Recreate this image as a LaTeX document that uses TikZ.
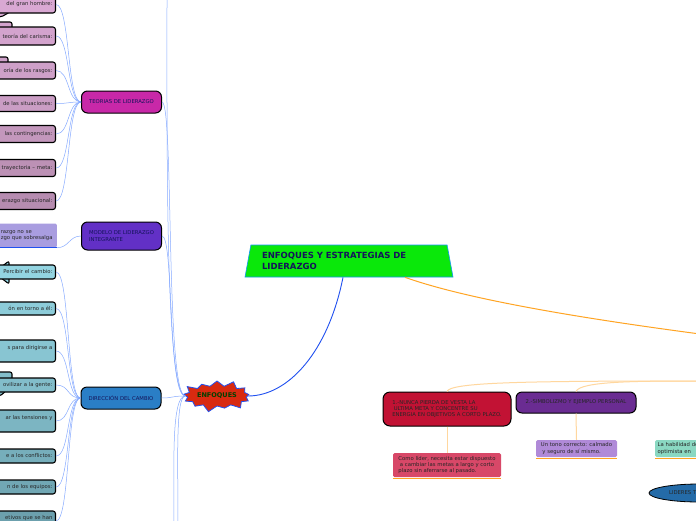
\documentclass[tikz,border=0pt]{standalone}
\usepackage{fontspec}
\setmainfont{DejaVu Sans}
\usetikzlibrary{shapes.geometric,shapes.symbols}

\definecolor{teoriaC}{HTML}{C828A8}
\definecolor{modeloC}{HTML}{6230C6}
\definecolor{direccionC}{HTML}{2A7EC6}
\definecolor{tituloC}{HTML}{0AE80A}
\definecolor{enfoquesC}{HTML}{D82A10}
\definecolor{nuncaC}{HTML}{C21234}
\definecolor{simbC}{HTML}{6A2C92}
\definecolor{rosaRojo}{HTML}{D84868}
\definecolor{lavanda}{HTML}{B08AD8}
\definecolor{menta}{HTML}{8AD8C2}
\definecolor{lila}{HTML}{A99DE0}
\definecolor{lineaAzul}{HTML}{86AAFF}
\definecolor{azulFuerte}{HTML}{2050F0}
\definecolor{naranja}{HTML}{FFA422}
\definecolor{naranjaClaro}{HTML}{FFD79E}
\definecolor{marino}{HTML}{14145A}
\definecolor{rosaA}{HTML}{D9A8D3}
\definecolor{rosaB}{HTML}{D3A3CD}
\definecolor{rosaC}{HTML}{CEA0C8}
\definecolor{rosaD}{HTML}{CA9DC4}
\definecolor{rosaE}{HTML}{C397BC}
\definecolor{rosaF}{HTML}{BC91B5}
\definecolor{rosaG}{HTML}{B68CB0}
\definecolor{celesteA}{HTML}{93D4E1}
\definecolor{celesteB}{HTML}{8DCCD9}
\definecolor{celesteC}{HTML}{88C5D2}
\definecolor{celesteD}{HTML}{82BDCA}
\definecolor{celesteE}{HTML}{7CB5C2}
\definecolor{celesteF}{HTML}{76AEBB}
\definecolor{celesteG}{HTML}{71A7B4}
\definecolor{celesteH}{HTML}{6CA0AD}

\begin{document}
\begin{tikzpicture}[x=1pt,y=-1pt,
  every node/.style={font=\fontsize{5.3}{6.3}\selectfont, text=black!85},
  hoja/.style={draw=black, line width=1.1pt, rounded corners=2.5pt, anchor=east, text width=60pt, align=right, inner xsep=3pt, inner ysep=1pt},
  pestana/.style={draw=black, line width=1.1pt, rounded corners=2pt},
  rama/.style={draw=black, line width=1pt, rounded corners=6pt, minimum width=80pt, inner sep=2pt, text=marino},
  enlace/.style={draw=lineaAzul, line width=.5pt},
  caja/.style={rounded corners=1.5pt, inner sep=2.5pt, align=left},
  subrayado/.style={draw=naranja, line width=1.2pt}]
\path [fill=white] (0,0) rectangle (696,520);
\useasboundingbox (0,0) rectangle (696,520);

% pestanas de las llamadas
\draw [pestana, fill=rosaA] (-4,8) -- (10,12) -- (1,17) -- (-4,17) -- cycle;
\draw [pestana, fill=rosaB] (-4,22) rectangle (12,34);
\draw [pestana, fill=rosaC] (-4,57) rectangle (8,67);
\draw [pestana, fill=celesteA] (9,261) -- (9,284) -- (-6,272.5) -- cycle;
\draw [pestana, fill=celesteD] (-4,372) rectangle (12,381);
\draw [pestana, fill=celesteD] (-4,388) -- (6,391) -- (0,396) -- (-4,396) -- cycle;

% teorias
\node (gran) [hoja, fill=rosaA, minimum height=17pt] at (56,4.5) {del gran hombre:};
\node (carisma) [hoja, fill=rosaB, minimum height=18pt] at (56,36) {teoría del carisma:};
\node (rasgos) [hoja, fill=rosaC, minimum height=17pt] at (56,70.5) {oría de los rasgos:};
\node (situaciones) [hoja, fill=rosaD, minimum height=16pt] at (56,103.5) {de las situaciones:};
\node (contingencias) [hoja, fill=rosaE, minimum height=17pt] at (56,134) {las contingencias:};
\node (trayectoria) [hoja, fill=rosaF, minimum height=17pt] at (56,168) {trayectoria – meta:};
\node (situacional) [hoja, fill=rosaG, minimum height=17pt] at (56,201) {erazgo situacional:};

\node (sobresale) [caja, fill=lila, anchor=east, text width=54pt, minimum height=24pt, inner xsep=2pt] at (57,235.5) {razgo no se\\zgo que sobresalga};

% direccion del cambio
\node (percibir) [hoja, fill=celesteA, minimum height=14pt] at (56,272) {Percibir el cambio:};
\node (vision) [hoja, fill=celesteB, minimum height=13pt] at (56,308.5) {ón en torno a él:};
\node (dirigirse) [hoja, fill=celesteC, minimum height=22pt] at (56,351) {s para dirigirse a\\\mbox{}};
\node (movilizar) [hoja, fill=celesteD, minimum height=14pt] at (56,385) {ovilizar a la gente:};
\node (tensiones) [hoja, fill=celesteE, minimum height=22pt] at (56,421) {ar las tensiones y\\\mbox{}};
\node (conflictos) [hoja, fill=celesteF, minimum height=14pt] at (56,456) {e a los conflictos:};
\node (equipos) [hoja, fill=celesteG, minimum height=14pt] at (56,487) {n de los equipos:};
\node (objetivos) [hoja, fill=celesteH, minimum height=20pt] at (56,521) {etivos que se han\\\mbox{}};

% ramas
\node (teorias) [rama, fill=teoriaC, minimum height=22pt] at (121.5,102) {TEORIAS DE LIDERAZGO};
\node (modelo) [rama, fill=modeloC, minimum height=28pt, align=left] at (121.5,236) {MODELO DE LIDERAZGO\\INTEGRANTE};
\node (direccion) [rama, fill=direccionC, minimum height=22pt] at (121,398) {DIRECCIÓN DEL CAMBIO};

\node (enfoques) [starburst, starburst points=13, starburst point height=7pt, fill=enfoquesC, draw=azulFuerte, line width=.8pt, minimum width=60pt, minimum height=34pt, inner sep=1pt, font=\bfseries\fontsize{6.5}{7}\selectfont, text=black!75!green] at (217,396) {ENFOQUES};

\node (titulo) [trapezium, trapezium angle=76, trapezium stretches body, fill=tituloC, draw=azulFuerte!60!cyan, line width=.6pt, minimum width=208pt, minimum height=32pt, text width=174pt, align=left, inner xsep=2pt, font=\bfseries\fontsize{8.5}{10.5}\selectfont, text=marino] at (349,261) {ENFOQUES Y ESTRATEGIAS DE\\LIDERAZGO};

% estrategias
\node (nunca) [rama, fill=nuncaC, minimum width=128pt, minimum height=34pt, align=left, rounded corners=7pt, text=black!85] at (447,409) {1.-NUNCA PIERDA DE VESTA LA\\\hspace*{1.5pt}ULTIMA META Y CONCENTRE SU\\ENERGIA EN OBJETIVOS A CORTO PLAZO.};
\node (simbolismo) [rama, fill=simbC, minimum width=120pt, minimum height=21pt, text=black!85] at (576,402.5) {2.-SIMBOLIZMO Y EJEMPLO PERSONAL};
\node (lider) [caja, fill=rosaRojo, minimum width=108pt, minimum height=24pt] at (447,465) {Como líder, necesita estar dispuesto\\\hspace*{1.5pt}a cambiar las metas a largo y corto\\plazo sin aferrarse al pasado.};
\node (tono) [caja, fill=lavanda, minimum width=81pt, minimum height=17pt] at (576.5,448.5) {Un tono correcto: calmado\\\hspace*{1.5pt}y seguro de sí mismo.};
\node (habilidad) [caja, fill=menta, text width=56pt, minimum height=17pt, anchor=west] at (655,448.5) {La habilidad de\\optimista en};
\node (lideres) [ellipse, draw=black, line width=.8pt, fill=direccionC!85!black, minimum width=100pt, minimum height=18pt, text width=60pt, align=left, inner sep=0pt] at (699,493) {LIDERES T};

\draw [subrayado] ([yshift=-1pt]lider.south west) -- ([yshift=-1pt]lider.south east);
\draw [subrayado] ([yshift=-1pt]tono.south west) -- ([yshift=-1pt]tono.south east);
\draw [subrayado] ([yshift=-1pt]habilidad.south west) -- ([yshift=-1pt]habilidad.south east);
\draw [azulFuerte, line width=1pt] ([xshift=-4pt]sobresale.south west) -- (sobresale.south east);

% conectores
\coordinate (arriba) at (167,-2);
\coordinate (abajo) at (174,523);
\coordinate (abajo2) at (178,523);
\coordinate (derecha) at (700,334);
\coordinate (derecha2) at (700,381);

\draw [azulFuerte, line width=.9pt] ([xshift=-6pt]titulo.south) .. controls +(-15,75) and +(40,0) .. (enfoques.east);
\draw [naranja, line width=1pt] ([xshift=56pt]titulo.south) .. controls +(70,25) and +(-90,-12) .. (derecha);
\draw [naranjaClaro, line width=1pt] (derecha2) .. controls (530,381) and (450,382) .. (nunca.north);
\draw [naranjaClaro, line width=1pt] (derecha2) .. controls (640,381) and (580,381) .. (simbolismo.north);
\draw [naranjaClaro, line width=1pt] (nunca.south) -- (lider.north);
\draw [naranjaClaro, line width=1pt] (simbolismo.south) -- (tono.north);

\draw [enlace] (enfoques.west) .. controls +(-20,0) and +(0,150) .. (arriba);
\draw [enlace] (enfoques.west) .. controls +(-20,0) and +(12,0) .. (teorias.east);
\draw [enlace] (enfoques.west) .. controls +(-18,0) and +(12,0) .. (modelo.east);
\draw [enlace] (enfoques.west) .. controls +(-14,0) and +(12,0) .. (direccion.east);
\draw [enlace] (enfoques.west) .. controls +(-14,0) and +(0,-60) .. (abajo);
\draw [enlace] (enfoques.west) .. controls +(-10,0) and +(0,-60) .. (abajo2);

\draw [enlace] (teorias.west) .. controls +(-14,0) and +(14,0) .. (gran.east);
\draw [enlace] (teorias.west) .. controls +(-14,0) and +(14,0) .. (carisma.east);
\draw [enlace] (teorias.west) .. controls +(-14,0) and +(14,0) .. (rasgos.east);
\draw [enlace] (teorias.west) .. controls +(-14,0) and +(14,0) .. (situaciones.east);
\draw [enlace] (teorias.west) .. controls +(-14,0) and +(14,0) .. (contingencias.east);
\draw [enlace] (teorias.west) .. controls +(-14,0) and +(14,0) .. (trayectoria.east);
\draw [enlace] (teorias.west) .. controls +(-14,0) and +(14,0) .. (situacional.east);
\draw [enlace] (modelo.west) .. controls +(-12,0) and +(12,0) .. (sobresale.south east);

\draw [enlace] (direccion.west) .. controls +(-14,0) and +(14,0) .. (percibir.east);
\draw [enlace] (direccion.west) .. controls +(-14,0) and +(14,0) .. (vision.east);
\draw [enlace] (direccion.west) .. controls +(-14,0) and +(14,0) .. (dirigirse.east);
\draw [enlace] (direccion.west) .. controls +(-14,0) and +(14,0) .. (movilizar.east);
\draw [enlace] (direccion.west) .. controls +(-14,0) and +(14,0) .. (tensiones.east);
\draw [enlace] (direccion.west) .. controls +(-14,0) and +(14,0) .. (conflictos.east);
\draw [enlace] (direccion.west) .. controls +(-14,0) and +(14,0) .. (equipos.east);
\draw [enlace] (direccion.west) .. controls +(-14,0) and +(14,0) .. (objetivos.east);
\end{tikzpicture}
\end{document}
